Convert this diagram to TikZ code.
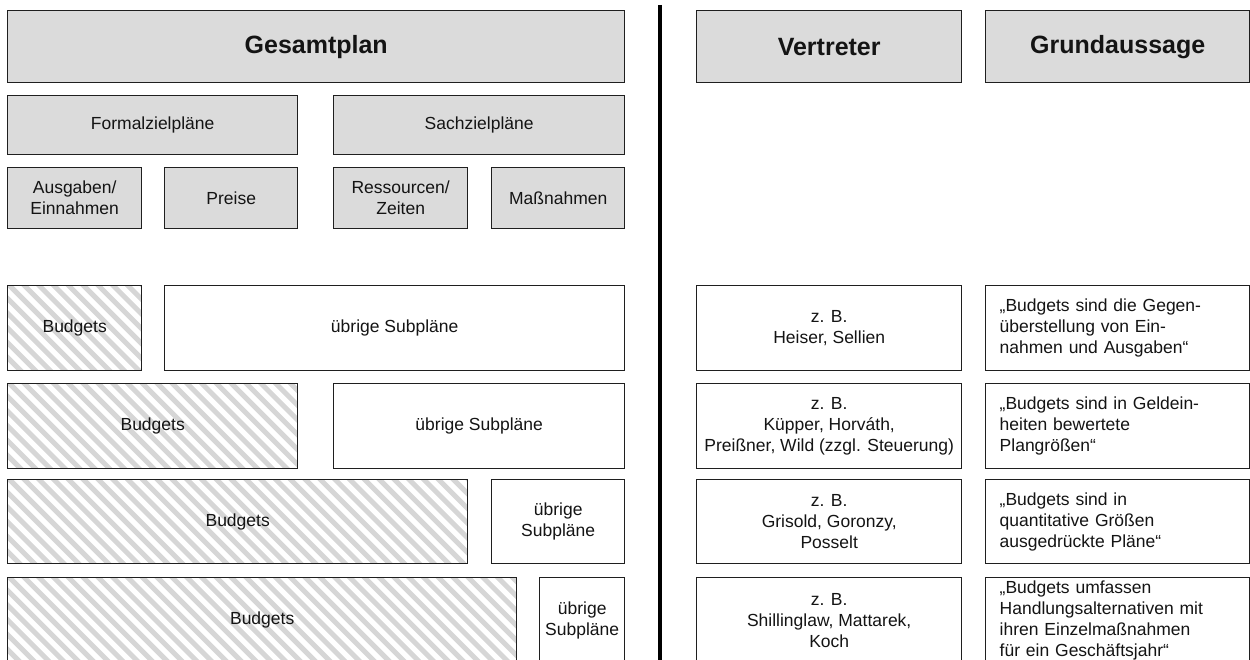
\documentclass[tikz,border=0pt]{standalone}
\usepackage{fontspec}
\setmainfont{Liberation Sans}
\begin{document}
\begin{tikzpicture}[x=1pt,y=-1pt,
  frame/.style={draw=black!88, line width=1.4pt, rectangle, inner sep=2pt,
    anchor=north west, align=center, text=black!92,
    font=\fontsize{17.5}{21}\selectfont},
  graybox/.style={frame, fill=black!14},
  headbox/.style={graybox, font=\fontsize{25}{30}\selectfont\bfseries},
  plainbox/.style={frame, fill=white},
  quotebox/.style={frame, fill=white, align=left, inner xsep=14pt,
    text width={#1}},
  hatchbox/.style={frame, fill=white,
    path picture={
      \foreach \k in {-8,...,38}
        \draw[line width=5pt, black!16]
          ([xshift=\k*14.8pt, yshift=2pt]path picture bounding box.north west)
          -- ++(220pt,-220pt);
    }},
  divider/.style={line width=4pt, black}
]
\useasboundingbox (0,0) rectangle (1250,660);
\clip (0,0) rectangle (1250,660);

% left half: plan hierarchy
\node[headbox, minimum width=617pt, minimum height=72pt] (gesamt) at (7,10) {Gesamtplan};
\node[graybox, minimum width=290pt, minimum height=59pt] (formal) at (7,95) {Formalzielpläne};
\node[graybox, minimum width=291pt, minimum height=59pt] (sach) at (333,95) {Sachzielpläne};
\node[graybox, minimum width=134pt, minimum height=61pt] (ausg) at (7,167) {Ausgaben/\\Einnahmen};
\node[graybox, minimum width=133pt, minimum height=61pt] (preise) at (164,167) {Preise};
\node[graybox, minimum width=134pt, minimum height=61pt] (ress) at (333,167) {Ressourcen/\\Zeiten};
\node[graybox, minimum width=133pt, minimum height=61pt] (massn) at (491,167) {Maßnahmen};

% budgets versus remaining subplans, four views
\node[hatchbox, minimum width=134pt, minimum height=85pt] (bud1) at (7,285) {Budgets};
\node[plainbox, minimum width=460pt, minimum height=85pt] (sub1) at (164,285) {übrige Subpläne};
\node[hatchbox, minimum width=290pt, minimum height=85pt] (bud2) at (7,383) {Budgets};
\node[plainbox, minimum width=291pt, minimum height=85pt] (sub2) at (333,383) {übrige Subpläne};
\node[hatchbox, minimum width=460pt, minimum height=84pt] (bud3) at (7,479) {Budgets};
\node[plainbox, minimum width=133pt, minimum height=84pt] (sub3) at (491,479) {übrige\\Subpläne};
\node[hatchbox, minimum width=509pt, minimum height=85pt] (bud4) at (7,577) {Budgets};
\node[plainbox, minimum width=85pt, minimum height=85pt] (sub4) at (539,577) {übrige\\Subpläne};

% separator
\coordinate (divtop) at (660,5);
\coordinate (divbot) at (660,662);
\draw[divider] (divtop) -- (divbot);

% right half: authors and statements
\node[headbox, minimum width=265pt, minimum height=72pt] (vert) at (696,10) {Vertreter};
\node[headbox, minimum width=264pt, minimum height=72pt] (grund) at (985,10) {Grundaussage};

\node[plainbox, minimum width=265pt, minimum height=85pt] (v1) at (696,285) {z. B.\\Heiser, Sellien};
\node[plainbox, minimum width=265pt, minimum height=85pt] (v2) at (696,383) {z. B.\\Küpper, Horváth,\\Preißner, Wild (zzgl. Steuerung)};
\node[plainbox, minimum width=265pt, minimum height=84pt] (v3) at (696,479) {z. B.\\Grisold, Goronzy,\\Posselt};
\node[plainbox, minimum width=265pt, minimum height=85pt] (v4) at (696,577) {z. B.\\Shillinglaw, Mattarek,\\Koch};

\node[quotebox=236pt, minimum width=264pt, minimum height=85pt] (g1) at (985,285)
  {„Budgets sind die Gegen-\\überstellung von Ein-\\nahmen und Ausgaben“};
\node[quotebox=236pt, minimum width=264pt, minimum height=85pt] (g2) at (985,383)
  {„Budgets sind in Geldein-\\heiten bewertete\\Plangrößen“};
\node[quotebox=236pt, minimum width=264pt, minimum height=84pt] (g3) at (985,479)
  {„Budgets sind in\\quantitative Größen\\ausgedrückte Pläne“};
\node[quotebox=236pt, minimum width=264pt, minimum height=85pt] (g4) at (985,577)
  {„Budgets umfassen\\Handlungsalternativen mit\\ihren Einzelmaßnahmen\\für ein Geschäftsjahr“};
\end{tikzpicture}
\end{document}
